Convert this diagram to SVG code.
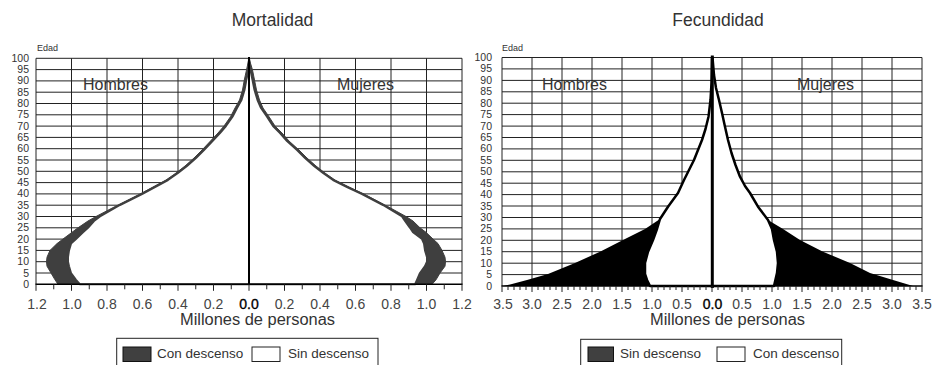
<svg xmlns="http://www.w3.org/2000/svg" width="934" height="365" viewBox="0 0 934 365">
<style>
text{font-family:"Liberation Sans",Arial,sans-serif;fill:#333}
.title{font-size:17.5px;text-anchor:middle}
.sex{font-size:16px}
.edad{font-size:9px}
.yl{font-size:10.5px;text-anchor:end}
.xl{font-size:14px;text-anchor:middle;fill:#444}
.x0{font-size:14px;text-anchor:middle;fill:#000;stroke:#000;stroke-width:0.35}
.axt{font-size:16px;text-anchor:middle}
.leg{font-size:13.5px}
.grid{stroke:#222;stroke-width:1;fill:none}
.tick{stroke:#222;stroke-width:1;fill:none}
.axis{stroke:#000;stroke-width:1.6}
</style>
<rect width="934" height="365" fill="#fff"/>

<g id="mortalidad">
  <text class="title" x="272.5" y="26">Mortalidad</text>
  <text class="edad" x="37" y="50.5">Edad</text>
  <g id="m-grid" class="grid">
    <path d="M36 58.3V284.3M71.5 58.3V284.3M107 58.3V284.3M142.5 58.3V284.3M178 58.3V284.3M213.5 58.3V284.3M284.5 58.3V284.3M320 58.3V284.3M355.5 58.3V284.3M391 58.3V284.3M426.5 58.3V284.3M462 58.3V284.3"/>
    <path d="M36 58.3H462M36 69.6H462M36 80.9H462M36 92.2H462M36 103.5H462M36 114.8H462M36 126.1H462M36 137.4H462M36 148.7H462M36 160H462M36 171.3H462M36 182.6H462M36 193.9H462M36 205.2H462M36 216.5H462M36 227.8H462M36 239.1H462M36 250.4H462M36 261.7H462M36 273H462"/>
  </g>
  <g id="m-ylabels">
    <text class="yl" x="29" y="61.8">100</text>
    <text class="yl" x="29" y="73.1">95</text>
    <text class="yl" x="29" y="84.4">90</text>
    <text class="yl" x="29" y="95.7">85</text>
    <text class="yl" x="29" y="107">80</text>
    <text class="yl" x="29" y="118.3">75</text>
    <text class="yl" x="29" y="129.6">70</text>
    <text class="yl" x="29" y="140.9">65</text>
    <text class="yl" x="29" y="152.2">60</text>
    <text class="yl" x="29" y="163.5">55</text>
    <text class="yl" x="29" y="174.8">50</text>
    <text class="yl" x="29" y="186.1">45</text>
    <text class="yl" x="29" y="197.4">40</text>
    <text class="yl" x="29" y="208.7">35</text>
    <text class="yl" x="29" y="220">30</text>
    <text class="yl" x="29" y="231.3">25</text>
    <text class="yl" x="29" y="242.6">20</text>
    <text class="yl" x="29" y="253.9">15</text>
    <text class="yl" x="29" y="265.2">10</text>
    <text class="yl" x="29" y="276.5">5</text>
    <text class="yl" x="29" y="287.8">0</text>
  </g>
  <text class="sex" x="83" y="90">Hombres</text>
  <text class="sex" x="337" y="90">Mujeres</text>
  <g id="m-pyramid">
    <path fill="#3f3f3f" stroke="#3f3f3f" stroke-width="1" stroke-linejoin="round" d="M249 58.3L246.5 70L244.3 80L242.5 90L239.5 100L235 108L230.5 116.7L224 126L218 133L210.5 141L202 150L194 158L185 166L176 173L166 180L153 187L140 194L118 205L96 216.5L88 221L78 227.8L72 232.3L63 239L57 243.6L50 250.4L47 257.2L46.5 261.7L47 266.2L51 273L55 279.8L58 284.3L432 284.3L436 279.8L440 273L445 266.2L445.5 261.7L445 257.2L442 250.4L438 243.6L433 239L426 232.3L420 227.8L413 221L406 216.5L385 205L364 194L349 187L335 180L325 173L316 166L307 158L299 150L289 141L282 133L275 126L269 116.7L263 108L259.5 100L256.5 90L254.5 80L252.5 70Z"/>
    <path fill="#fff" stroke="#3f3f3f" stroke-width="2" stroke-linejoin="round" d="M249 58.3L248.5 70L246.3 80L244.5 90L241.5 100L237 108L232.5 116.7L226 126L220 133L212.5 141L204 150L196 158L187 166L178 173L168 180L155 187L142 194L120 205L100 216.5L94 221L88 227.8L83 232.3L76 239L71 243.6L69 250.4L68 257.2L68 261.7L69 266.2L71 273L76 279.8L80 284.3L415 284.3L417 279.8L420 273L425 266.2L427 261.7L427 257.2L425 250.4L424 243.6L422 239L413 232.3L410 227.8L405 221L402 216.5L383 205L362 194L347 187L333 180L323 173L314 166L305 158L297 150L287 141L280 133L273 126L267 116.7L261 108L257.5 100L254.5 90L252.5 80L250.5 70Z"/>
  </g>
  <path class="axis" d="M35.5 284.3H462.5"/>
  <path stroke="#000" stroke-width="2" d="M249 57V285"/>
  <path class="tick" d="M36 284.3v6.5M71.5 284.3v6.5M107 284.3v6.5M142.5 284.3v6.5M178 284.3v6.5M213.5 284.3v6.5M249 284.3v6.5M284.5 284.3v6.5M320 284.3v6.5M355.5 284.3v6.5M391 284.3v6.5M426.5 284.3v6.5M462 284.3v6.5M53.75 284.3v5M89.25 284.3v5M124.75 284.3v5M160.25 284.3v5M195.75 284.3v5M231.25 284.3v5M266.75 284.3v5M302.25 284.3v5M337.75 284.3v5M373.25 284.3v5M408.75 284.3v5M444.25 284.3v5"/>
  <g id="m-xlabels">
    <text class="xl" x="37" y="308.5">1.2</text>
    <text class="xl" x="72" y="308.5">1.0</text>
    <text class="xl" x="107" y="308.5">0.8</text>
    <text class="xl" x="142.5" y="308.5">0.6</text>
    <text class="xl" x="178" y="308.5">0.4</text>
    <text class="xl" x="213.5" y="308.5">0.2</text>
    <text class="x0" x="249" y="308.5">0.0</text>
    <text class="xl" x="284.5" y="308.5">0.2</text>
    <text class="xl" x="320" y="308.5">0.4</text>
    <text class="xl" x="355.5" y="308.5">0.6</text>
    <text class="xl" x="391" y="308.5">0.8</text>
    <text class="xl" x="426.5" y="308.5">1.0</text>
    <text class="xl" x="462" y="308.5">1.2</text>
  </g>
  <text class="axt" x="257.5" y="325" textLength="155" lengthAdjust="spacingAndGlyphs">Millones de personas</text>
  <g id="m-legend">
    <rect x="116.7" y="338.3" width="261.3" height="30" fill="#fff" stroke="#222" stroke-width="1"/>
    <rect x="123" y="347" width="28" height="14.5" fill="#404040" stroke="#111" stroke-width="1"/>
    <text class="leg" x="157" y="358">Con descenso</text>
    <rect x="252" y="347" width="28" height="14.5" fill="#fff" stroke="#222" stroke-width="1"/>
    <text class="leg" x="288" y="358">Sin descenso</text>
  </g>
</g>

<g id="fecundidad">
  <text class="title" x="718" y="26">Fecundidad</text>
  <text class="edad" x="502" y="50.5">Edad</text>
  <g id="f-grid" class="grid">
    <path d="M502 57.5V286M532 57.5V286M562 57.5V286M592 57.5V286M622 57.5V286M652 57.5V286M682 57.5V286M742 57.5V286M772 57.5V286M802 57.5V286M832 57.5V286M862 57.5V286M892 57.5V286M922 57.5V286"/>
    <path d="M502 57.5H922M502 68.9H922M502 80.4H922M502 91.8H922M502 103.2H922M502 114.6H922M502 126.1H922M502 137.5H922M502 148.9H922M502 160.3H922M502 171.8H922M502 183.2H922M502 194.6H922M502 206H922M502 217.5H922M502 228.9H922M502 240.3H922M502 251.7H922M502 263.2H922M502 274.6H922"/>
  </g>
  <g id="f-ylabels">
    <text class="yl" x="492" y="61">100</text>
    <text class="yl" x="492" y="72.4">95</text>
    <text class="yl" x="492" y="83.9">90</text>
    <text class="yl" x="492" y="95.3">85</text>
    <text class="yl" x="492" y="106.7">80</text>
    <text class="yl" x="492" y="118.1">75</text>
    <text class="yl" x="492" y="129.6">70</text>
    <text class="yl" x="492" y="141">65</text>
    <text class="yl" x="492" y="152.4">60</text>
    <text class="yl" x="492" y="163.8">55</text>
    <text class="yl" x="492" y="175.3">50</text>
    <text class="yl" x="492" y="186.7">45</text>
    <text class="yl" x="492" y="198.1">40</text>
    <text class="yl" x="492" y="209.5">35</text>
    <text class="yl" x="492" y="221">30</text>
    <text class="yl" x="492" y="232.4">25</text>
    <text class="yl" x="492" y="243.8">20</text>
    <text class="yl" x="492" y="255.2">15</text>
    <text class="yl" x="492" y="266.7">10</text>
    <text class="yl" x="492" y="278.1">5</text>
    <text class="yl" x="492" y="289.5">0</text>
  </g>
  <text class="sex" x="542" y="90">Hombres</text>
  <text class="sex" x="797" y="90">Mujeres</text>
  <g id="f-pyramid">
    <path fill="#000" d="M712 57.5L711.5 83L710.5 100L708.5 116.7L705.5 129L702 140L698 150L694 160L689 170L684 180L678 193L668 206.7L660 219L645 229L623 240L600 251.7L575 263L548 274L527 280L512 284L503 286L913 286L893 280L870 273L850 263L823 251.7L800 240L783 229L768 220L758 206.7L750 193L745 186L740 176.7L735.5 165L731.5 153L728 140L725 126.7L722 113L719 100L716 88L714 75L712.5 57.5Z"/>
    <path fill="#fff" stroke="#000" stroke-width="2.5" stroke-linejoin="round" d="M712 57.5L711.5 83L710.5 100L708.5 116.7L705.5 129L702 140L698 150L694 160L689 170L684 180L678 193L668 206.7L660 219L657 229L653 240L648 251.7L645 263L645 274L647 280L650 286L774 286L777 273L778 263L777 251.7L774 240L772 229L768 220L758 206.7L750 193L745 186L740 176.7L735.5 165L731.5 153L728 140L725 126.7L722 113L719 100L716 88L714 75L712.5 57.5Z"/>
  </g>
  <path class="axis" d="M501.5 286H922.5"/>
  <path stroke="#000" stroke-width="3" d="M712.3 55.5V288"/>
  <path class="tick" d="M502 286v6M532 286v6M562 286v6M592 286v6M622 286v6M652 286v6M682 286v6M712 286v6M742 286v6M772 286v6M802 286v6M832 286v6M862 286v6M892 286v6M922 286v6"/>
  <path class="tick" d="M508 286v4M514 286v4M520 286v4M526 286v4M538 286v4M544 286v4M550 286v4M556 286v4M568 286v4M574 286v4M580 286v4M586 286v4M598 286v4M604 286v4M610 286v4M616 286v4M628 286v4M634 286v4M640 286v4M646 286v4M658 286v4M664 286v4M670 286v4M676 286v4M688 286v4M694 286v4M700 286v4M706 286v4M718 286v4M724 286v4M730 286v4M736 286v4M748 286v4M754 286v4M760 286v4M766 286v4M778 286v4M784 286v4M790 286v4M796 286v4M808 286v4M814 286v4M820 286v4M826 286v4M838 286v4M844 286v4M850 286v4M856 286v4M868 286v4M874 286v4M880 286v4M886 286v4M898 286v4M904 286v4M910 286v4M916 286v4"/>
  <g id="f-xlabels">
    <text class="xl" x="503" y="309">3.5</text>
    <text class="xl" x="532" y="309">3.0</text>
    <text class="xl" x="562" y="309">2.5</text>
    <text class="xl" x="592" y="309">2.0</text>
    <text class="xl" x="622" y="309">1.5</text>
    <text class="xl" x="652" y="309">1.0</text>
    <text class="xl" x="682" y="309">0.5</text>
    <text class="x0" x="712.5" y="309">0.0</text>
    <text class="xl" x="742" y="309">0.5</text>
    <text class="xl" x="772" y="309">1.0</text>
    <text class="xl" x="802" y="309">1.5</text>
    <text class="xl" x="832" y="309">2.0</text>
    <text class="xl" x="862" y="309">2.5</text>
    <text class="xl" x="892" y="309">3.0</text>
    <text class="xl" x="922" y="309">3.5</text>
  </g>
  <text class="axt" x="727.5" y="325" textLength="155" lengthAdjust="spacingAndGlyphs">Millones de personas</text>
  <g id="f-legend">
    <rect x="580.7" y="339.3" width="261" height="30" fill="#fff" stroke="#222" stroke-width="1"/>
    <rect x="588" y="347" width="25.5" height="14.5" fill="#404040" stroke="#111" stroke-width="1"/>
    <text class="leg" x="620" y="358">Sin descenso</text>
    <rect x="717" y="347" width="28" height="14.5" fill="#fff" stroke="#222" stroke-width="1"/>
    <text class="leg" x="753" y="358">Con descenso</text>
  </g>
</g>
</svg>
